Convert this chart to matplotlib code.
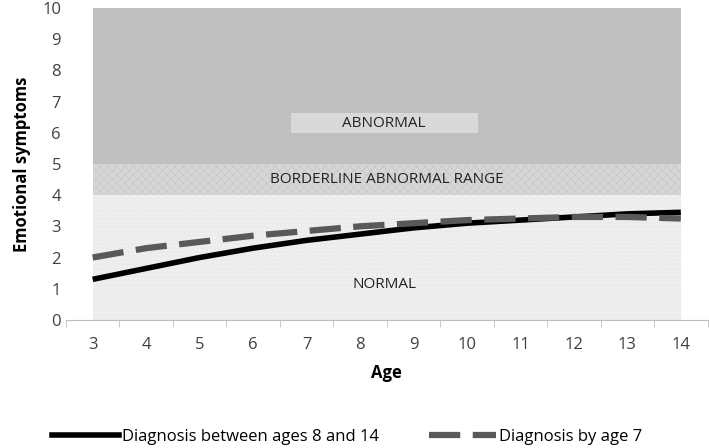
import matplotlib.pyplot as plt
import matplotlib.patches as mpatches
from matplotlib.lines import Line2D

ages = [3, 4, 5, 6, 7, 8, 9, 10, 11, 12, 13, 14]
diag_8_14 = [1.3, 1.65, 2.0, 2.3, 2.55, 2.75, 2.95, 3.1, 3.2, 3.3, 3.4, 3.45]
diag_by_7 = [2.0, 2.3, 2.5, 2.7, 2.85, 3.0, 3.1, 3.2, 3.25, 3.3, 3.3, 3.25]

plt.rcParams["font.family"] = "Open Sans"
plt.rcParams["hatch.linewidth"] = 0.4

fig = plt.figure(figsize=(7.09, 4.48), dpi=100)
ax = fig.add_axes([0.093, 0.286, 0.905, 0.696])

# range bands
ax.add_patch(mpatches.Rectangle((3, 0), 11, 4, facecolor="#ececec", edgecolor="#f8f8f8",
                                hatch="....", linewidth=0))
ax.add_patch(mpatches.Rectangle((3, 4), 11, 1, facecolor="#d6d6d6", edgecolor="#c4c4c4",
                                hatch="xxxx", linewidth=0))
ax.add_patch(mpatches.Rectangle((3, 5), 11, 5, facecolor="#c0c0c0", linewidth=0))

ax.add_patch(mpatches.Rectangle((6.7, 6.0), 3.5, 0.65, facecolor="#d9d9d9", linewidth=0))
ax.text(8.45, 6.3, "ABNORMAL", ha="center", va="center", fontsize=11, color="#222222")
ax.text(8.5, 4.5, "BORDERLINE ABNORMAL RANGE", ha="center", va="center", fontsize=11, color="#222222")
ax.text(8.45, 1.15, "NORMAL", ha="center", va="center", fontsize=11, color="#222222")

ax.plot(ages, diag_8_14, color="black", linewidth=4, solid_capstyle="butt")
ax.plot(ages, diag_by_7, color="#595959", linewidth=4.5, dashes=(5, 2))

ax.set_xlim(2.5, 14.5)
ax.set_ylim(0, 10)
ax.set_xticks(ages)
ax.set_xticks([a + 0.5 for a in [2] + ages], minor=True)
ax.tick_params(axis="x", which="major", length=0, pad=12, labelsize=12, colors="#404040")
ax.tick_params(axis="x", which="minor", length=5, color="#bfbfbf")
ax.set_yticks(range(0, 11))
ax.tick_params(axis="y", length=0, labelsize=12, colors="#404040")
for s in ["top", "right", "left"]:
    ax.spines[s].set_visible(False)
ax.spines["bottom"].set_color("#bfbfbf")
ax.set_xlabel("Age", fontsize=12, fontweight="bold", labelpad=8)
ax.set_ylabel("Emotional symptoms", fontsize=12, fontweight="bold", labelpad=8)

handles = [Line2D([], [], color="black", linewidth=4),
           Line2D([], [], color="#595959", linewidth=4.5, dashes=(5, 2))]
fig.legend(handles, ["Diagnosis between ages 8 and 14", "Diagnosis by age 7"],
           loc="center", bbox_to_anchor=(0.49, 0.025), ncol=2, frameon=False,
           fontsize=12, handlelength=4, handletextpad=0.2, columnspacing=3)

fig.savefig("out.png", dpi=100)
